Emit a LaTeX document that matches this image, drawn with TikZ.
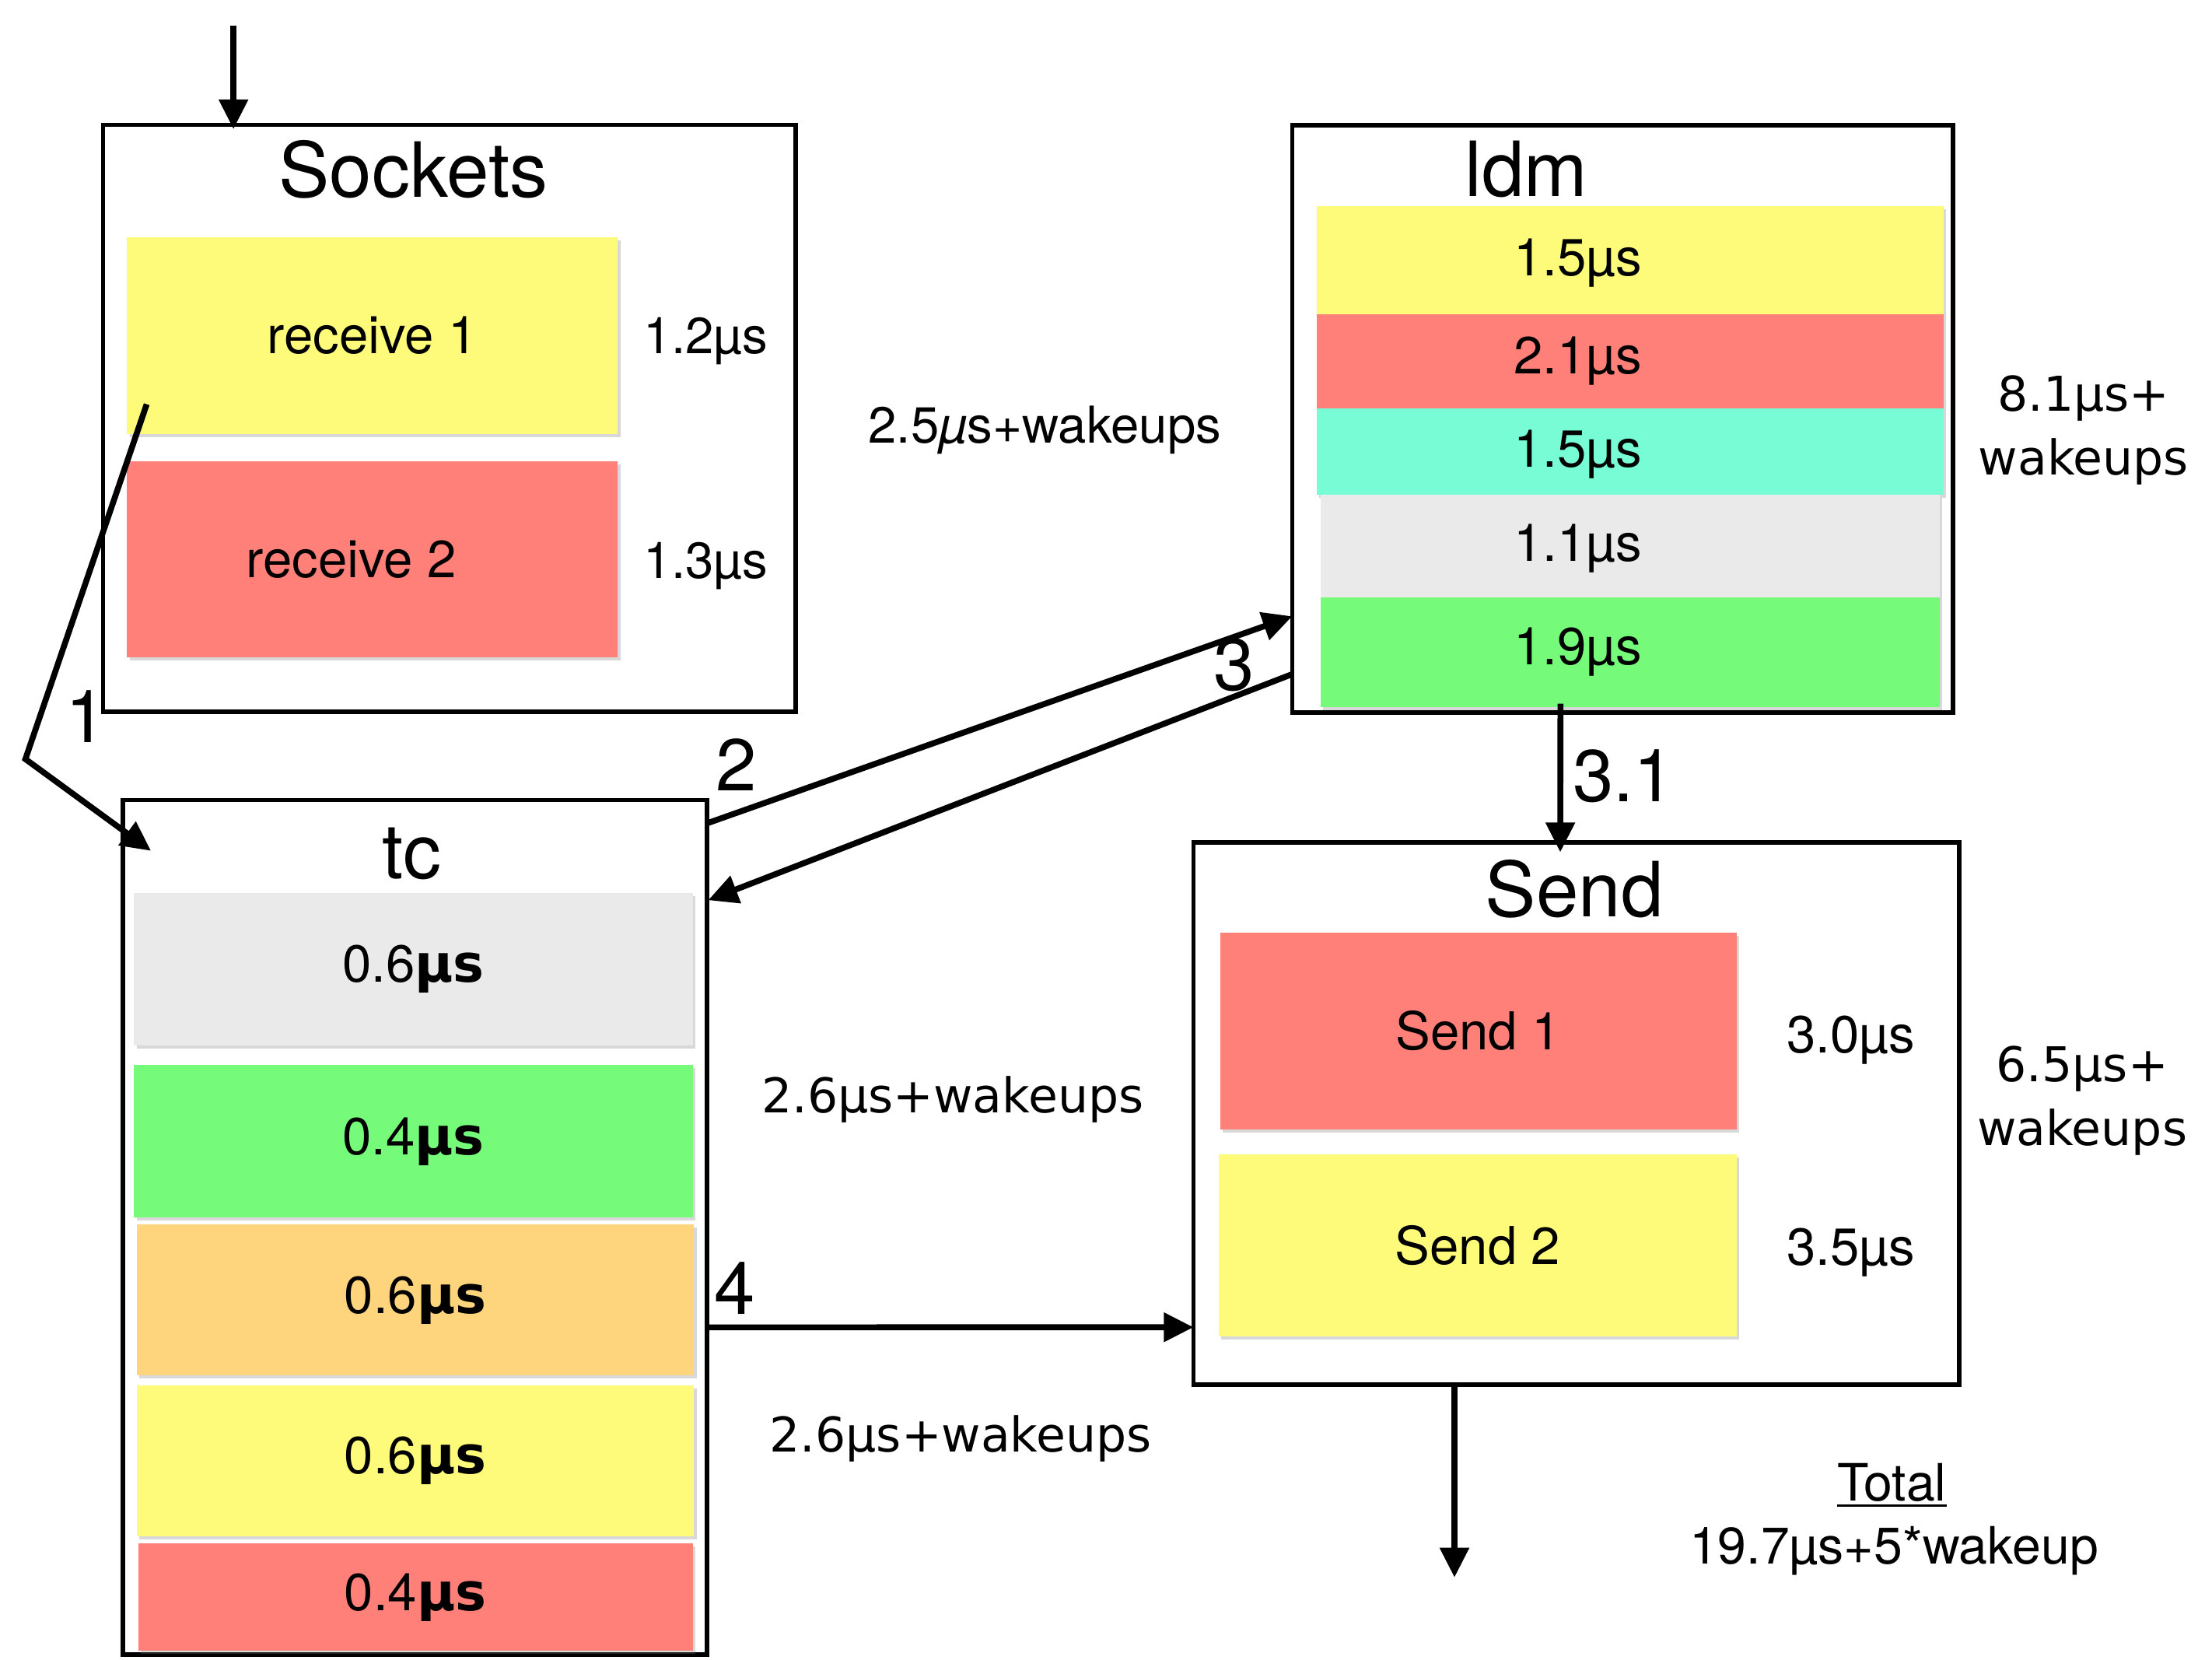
\documentclass[tikz,border=0pt]{standalone}
\usepackage{fontspec}
\setmainfont{TeX Gyre Heros}
\newfontfamily\dvfont{DejaVu Sans}
\usetikzlibrary{arrows.meta,calc,shadows}
\definecolor{cyel}{HTML}{FEFA7A}
\definecolor{cred}{HTML}{FF7F79}
\definecolor{cgrn}{HTML}{76FA7A}
\definecolor{ccyn}{HTML}{77FCD6}
\definecolor{cgry}{HTML}{EAEAEA}
\definecolor{corg}{HTML}{FED47C}
\newcommand{\ttlfont}{\fontsize{54}{60}\selectfont}
\newcommand{\cellfont}{\fontsize{37}{44}\selectfont}
\newcommand{\numfont}{\fontsize{52}{60}\selectfont}
\newcommand{\sidefont}{\fontsize{36}{44}\selectfont}
\newcommand{\lucfont}{\dvfont\fontsize{34}{45}\selectfont}
\newcommand{\totfont}{\fontsize{36.5}{44}\selectfont}
\newcommand{\myul}[1]{\setbox0\hbox{#1}\rlap{\rule[-4pt]{\wd0}{1.8pt}}\box0}
\begin{document}
\begin{tikzpicture}[x=1pt,y=-1pt,
  frame/.style={draw, line width=3.2pt, anchor=north west, inner sep=0pt, outer sep=0pt},
  cell/.style={anchor=north west, inner sep=0pt, outer sep=0pt, font=\cellfont,
    drop shadow={shadow xshift=1.8pt, shadow yshift=-2.2pt, opacity=0.3}},
  celltxt/.style={inner sep=0pt, font=\cellfont},
  ttl/.style={inner sep=0pt, anchor=base, font=\ttlfont},
  num/.style={inner sep=0pt, font=\numfont},
  side/.style={inner sep=0pt, anchor=base, font=\sidefont},
  luc/.style={inner sep=0pt, font=\lucfont, align=center},
  arr/.style={line width=4.2pt, -{Triangle[length=21pt,width=20pt]}}]
\useasboundingbox[fill=white] (0,0) rectangle (1568,1176);

% Sockets
\node[frame, minimum width=491pt, minimum height=416pt] (sock) at (73,88.5) {};
\node[ttl] (socktitle) at (293,140) {Sockets};
\node[cell, fill=cyel, minimum width=348pt, minimum height=139.5pt] (r1) at (90,168) {receive 1};
\node[cell, fill=cred, minimum width=348pt, minimum height=139pt] (r2) at (90,327) {receive 2\hspace*{30pt}};
\node[side] (t12) at (500,250.6) {1.2µs};
\node[side] (t13) at (500,410) {1.3µs};

% ldm
\node[frame, minimum width=468.3pt, minimum height=416.2pt] (ldm) at (916,88.6) {};
\node[ttl] (ldmtitle) at (1082,139.4) {ldm};
\node[cell, fill=cyel, minimum width=444.4pt, minimum height=76.2pt] (l1) at (933.3,146.3) {};
\node[cell, fill=cred, minimum width=444.4pt, minimum height=67.2pt] (l2) at (933.3,222.5) {};
\node[cell, fill=ccyn, minimum width=444.4pt, minimum height=60.9pt] (l3) at (933.3,289.7) {};
\node[cell, fill=cgry, minimum width=439pt, minimum height=72.7pt] (l4) at (936,350.6) {};
\node[cell, fill=cgrn, minimum width=439pt, minimum height=77.7pt] (l5) at (936,423.3) {};
\node[celltxt] (l1t) at ($(l1.center)+(-37,2)$) {1.5µs};
\node[celltxt] (l2t) at ($(l2.center)+(-37,0)$) {2.1µs};
\node[celltxt] (l3t) at ($(l3.center)+(-37,2)$) {1.5µs};
\node[celltxt] (l4t) at ($(l4.center)+(-37,2)$) {1.1µs};
\node[celltxt] (l5t) at ($(l5.center)+(-37,0)$) {1.9µs};
\node[luc] (ldmtot) at (1477,305) {8.1µs+\\wakeups};

% tc
\node[frame, minimum width=414pt, minimum height=605.5pt] (tc) at (87,567) {};
\node[ttl] (tctitle) at (292,622.5) {tc};
\node[cell, fill=cgry, minimum width=396pt, minimum height=108pt] (c1) at (95,633) {0.6{\dvfont\bfseries µs}};
\node[cell, fill=cgrn, minimum width=396pt, minimum height=108pt] (c2) at (95,755) {0.4{\dvfont\bfseries µs}};
\node[cell, fill=corg, minimum width=395pt, minimum height=107pt] (c3) at (97,868) {0.6{\dvfont\bfseries µs}};
\node[cell, fill=cyel, minimum width=395pt, minimum height=107pt] (c4) at (97,982) {0.6{\dvfont\bfseries µs}};
\node[cell, fill=cred, minimum width=393pt, minimum height=76pt] (c5) at (98,1094) {0.4{\dvfont\bfseries µs}};

% Send
\node[frame, minimum width=543pt, minimum height=384.4pt] (send) at (846,597) {};
\node[ttl] (sendtitle) at (1116,650) {Send};
\node[cell, fill=cred, minimum width=366pt, minimum height=139.5pt] (s1) at (865,661) {Send 1};
\node[cell, fill=cyel, minimum width=367pt, minimum height=129pt] (s2) at (864,818) {Send 2};
\node[celltxt] (t30) at (1312,737) {3.0µs};
\node[celltxt] (t35) at (1312,887.5) {3.5µs};
\node[luc] (sendtot) at (1476,780) {6.5µs+\\wakeups};

% middle labels
\node[side] (w25) at (740.6,313.9) {2.5{\itshape µ}s+wakeups};
\node[inner sep=0pt, anchor=base, font=\lucfont] (w26a) at (675.4,788.4) {2.6µs+wakeups};
\node[inner sep=0pt, anchor=base, font=\lucfont] (w26b) at (681,1029.2) {2.6µs+wakeups};

% total
\node[inner sep=0pt, anchor=base, font=\totfont] (tottitle) at (1341,1064) {\myul{Total}};
\node[inner sep=0pt, anchor=base, font=\totfont] (totval) at (1342.5,1108.3) {19.7µs+5*wakeup};

% step numbers
\node[num] (n1) at (61,508) {1};
\node[num] (n2) at (522,542) {2};
\node[num] (n3) at (875,471) {3};
\node[num] (n4) at (521,913) {4};
\node[num] (n31) at (1151,550) {3.1};

% connectors
\coordinate (inp) at ($(sock.north)+(-153,-70.5)$);
\draw[arr] (inp) -- ($(sock.north)+(-153,3)$);
\coordinate (bend1) at (18,538);
\draw[arr] ($(r1.south west)+(14,-21)$) -- (bend1) -- ($(tc.north west)+(20,36)$);
\draw[arr] ($(tc.north east)+(0,16.6)$) -- ($(ldm.south west)+(0,-68)$);
\draw[arr] ($(ldm.south west)+(0,-27)$) -- ($(tc.north east)+(1,71)$);
\draw[arr] ($(ldm.south)+(-44,-6)$) -- ($(send.north)+(-11.5,7)$);
\draw[arr] ($(tc.east)+(0,71)$) -- ($(send.west)+(0,151.5)$);
\coordinate (outp) at ($(send.south)+(-86.5,136.6)$);
\draw[arr] ($(send.south)+(-86.5,0)$) -- (outp);
\end{tikzpicture}
\end{document}
